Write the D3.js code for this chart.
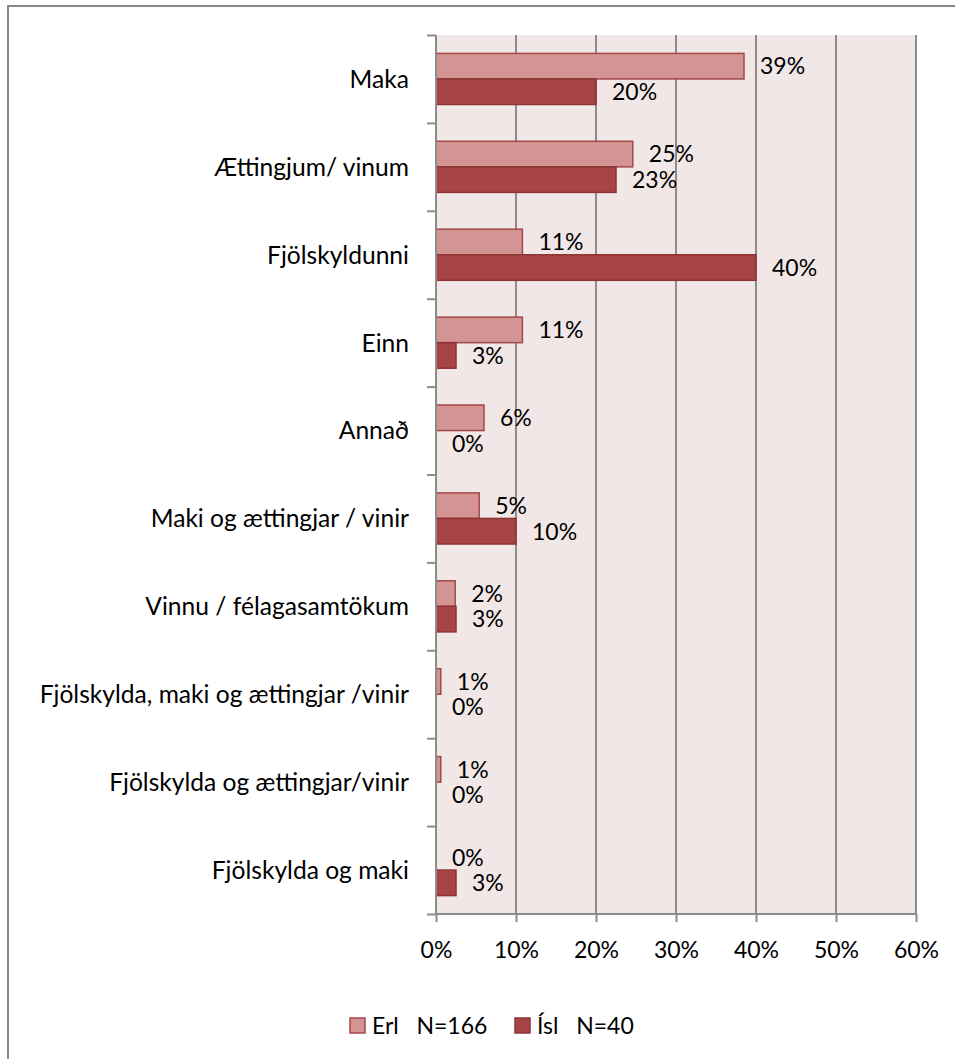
<!DOCTYPE html>
<html lang="en">
<head>
  <meta charset="UTF-8" />
  <title>Erl / Ísl</title>
  <script src="https://d3js.org/d3.v7.min.js"></script>
  <style>
    body { margin: 0; background-color: white; }
    svg text { font-family: Lato, "Open Sans", sans-serif; fill: black; }
  </style>
</head>
<body>
  <div id="chart"></div>
  <script>
  // data
  var categories = ["Maka", "Ættingjum/ vinum", "Fjölskyldunni", "Einn", "Annað",
    "Maki og ættingjar / vinir", "Vinnu / félagasamtökum",
    "Fjölskylda, maki og ættingjar /vinir", "Fjölskylda og ættingjar/vinir", "Fjölskylda og maki"];
  var erl = [38.5, 24.6, 10.8, 10.8, 6.0, 5.4, 2.4, 0.6, 0.6, 0];
  var isl = [20, 22.5, 40, 2.5, 0, 10, 2.5, 0, 0, 2.5];
  var erlLabels = ["39%", "25%", "11%", "11%", "6%", "5%", "2%", "1%", "1%", "0%"];
  var islLabels = ["20%", "23%", "40%", "3%", "0%", "10%", "3%", "0%", "0%", "3%"];
  var series = ["Erl", "Ísl"];
  var legendNames = ["Erl   N=166", "Ísl   N=40"];
  var xTicks = [0, 10, 20, 30, 40, 50, 60];

  var W = 955, H = 1059;
  var plot = {left: 436, right: 916, top: 35, bottom: 914};
  var fills = {"Erl": "#d49494", "Ísl": "#a94444"};
  var strokes = {"Erl": "#a24848", "Ísl": "#8c3434"};

  var svg = d3.select("#chart").append("svg")
    .attr("width", W).attr("height", H);

  // outer frame
  svg.append("rect")
    .attr("x", 8).attr("y", 6).attr("width", 1000).attr("height", 1100)
    .style("fill", "white").style("stroke", "#888").style("stroke-width", 2);

  var x = d3.scaleLinear().domain([0, 60]).range([plot.left, plot.right]);
  var y = d3.scaleBand().domain(categories).range([plot.top, plot.bottom]);
  var y1 = d3.scaleBand().domain(series).range([0, y.bandwidth()]).paddingOuter(0.72);

  // plot background
  svg.append("rect")
    .attr("x", plot.left).attr("y", plot.top)
    .attr("width", plot.right - plot.left).attr("height", plot.bottom - plot.top)
    .style("fill", "#f1e7e7");

  // gridlines
  svg.append("g").selectAll("line")
    .data(xTicks.slice(1))
    .enter().append("line")
      .attr("x1", function(d) { return x(d); }).attr("x2", function(d) { return x(d); })
      .attr("y1", plot.top).attr("y2", plot.bottom)
      .style("stroke", "#8c8c8c").style("stroke-width", 2);

  // bars
  var rows = categories.map(function(c, i) {
    return [
      {cat: c, s: "Erl", v: erl[i], label: erlLabels[i]},
      {cat: c, s: "Ísl", v: isl[i], label: islLabels[i]}
    ];
  });
  var flat = [].concat.apply([], rows);

  svg.append("g").selectAll("rect")
    .data(flat.filter(function(d) { return d.v > 0; }))
    .enter().append("rect")
      .attr("x", x(0))
      .attr("y", function(d) { return y(d.cat) + y1(d.s); })
      .attr("width", function(d) { return x(d.v) - x(0); })
      .attr("height", y1.bandwidth())
      .style("fill", function(d) { return fills[d.s]; })
      .style("stroke", function(d) { return strokes[d.s]; })
      .style("stroke-width", 1.5);

  // value labels
  svg.append("g").selectAll("text")
    .data(flat)
    .enter().append("text")
      .attr("x", function(d) { return x(d.v) + 16; })
      .attr("y", function(d) { return y(d.cat) + y1(d.s) + y1.bandwidth() / 2; })
      .attr("dy", "0.36em")
      .style("font-size", "23px")
      .text(function(d) { return d.label; });

  // y axis
  var yAxis = svg.append("g")
    .attr("transform", "translate(" + plot.left + ",0)")
    .call(d3.axisLeft(d3.scaleLinear().domain([0, 10]).range([plot.top, plot.bottom]))
      .ticks(10).tickSize(9).tickFormat(""));
  yAxis.select(".domain").remove();
  yAxis.selectAll("line").style("stroke", "#8c8c8c").style("stroke-width", 2);
  yAxis.append("line")
    .attr("x1", 0).attr("x2", 0).attr("y1", plot.top).attr("y2", plot.bottom)
    .style("stroke", "#8c8c8c").style("stroke-width", 2);

  // category labels
  svg.append("g").selectAll("text")
    .data(categories)
    .enter().append("text")
      .attr("x", 409)
      .attr("y", function(d) { return y(d) + y.bandwidth() / 2; })
      .attr("dy", "0.36em")
      .attr("text-anchor", "end")
      .style("font-size", "24.6px")
      .text(function(d) { return d; });

  // x axis
  var xAxis = svg.append("g")
    .attr("transform", "translate(0," + plot.bottom + ")")
    .call(d3.axisBottom(x).tickValues(xTicks).tickSize(8).tickPadding(20)
      .tickFormat(function(d) { return d + "%"; }));
  xAxis.select(".domain").remove();
  xAxis.selectAll("line").style("stroke", "#8c8c8c").style("stroke-width", 2);
  xAxis.selectAll("text").style("font-size", "23px")
    .style("font-family", "Lato, sans-serif").attr("fill", "black");
  xAxis.append("line")
    .attr("x1", plot.left).attr("x2", plot.right)
    .style("stroke", "#8c8c8c").style("stroke-width", 2);

  // legend
  var legendX = [350, 515];
  var legend = svg.append("g").selectAll("g")
    .data(series)
    .enter().append("g")
      .attr("transform", function(d, i) { return "translate(" + legendX[i] + ",1018)"; });
  legend.append("rect")
    .attr("width", 15).attr("height", 15)
    .style("fill", function(d) { return fills[d]; })
    .style("stroke", function(d) { return strokes[d]; })
    .style("stroke-width", 1.5);
  legend.append("text")
    .attr("x", 22).attr("y", 8).attr("dy", "0.36em")
    .style("font-size", "23px")
    .style("white-space", "pre")
    .text(function(d, i) { return legendNames[i]; });
  </script>
</body>
</html>
